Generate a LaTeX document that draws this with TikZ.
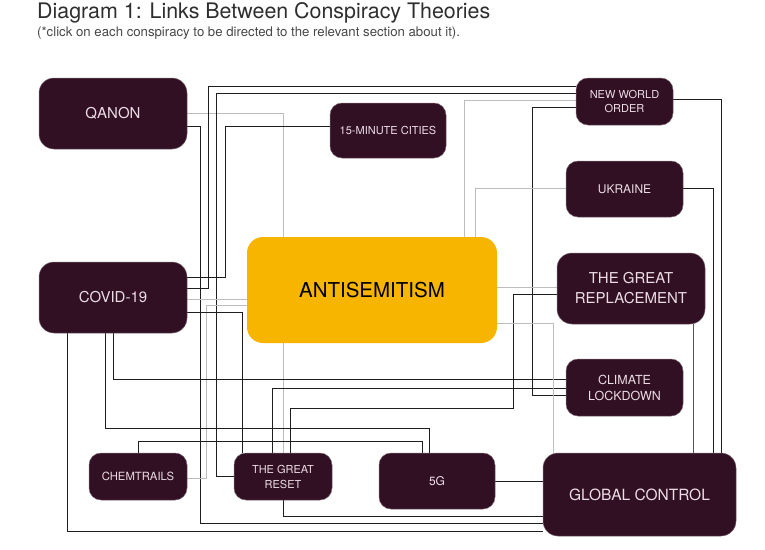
\documentclass[tikz,border=0pt]{standalone}
\usepackage{fontspec}
\setmainfont{TeX Gyre Heros}
\usetikzlibrary{backgrounds}
\definecolor{boxfill}{HTML}{321024}
\definecolor{boxtext}{HTML}{ECDDE5}
\definecolor{boxedge}{HTML}{7A6670}
\definecolor{antifill}{HTML}{F7B500}
\definecolor{lnblack}{HTML}{1E1E1E}
\definecolor{lngray}{HTML}{BDBDBD}
\definecolor{lndark}{HTML}{555555}
\tikzset{
  cbox/.style={rectangle, rounded corners=12pt, fill=boxfill, draw=boxedge, line width=0.5pt,
    text=boxtext, align=center, inner sep=0pt, outer sep=0pt},
  abox/.style={rectangle, rounded corners=16pt, fill=antifill, text=black, align=center,
    inner sep=0pt, outer sep=0pt, font=\fontsize{20.5}{24}\selectfont},
  bl/.style={draw=lnblack, line width=1pt},
  gl/.style={draw=lngray, line width=1pt},
  dl/.style={draw=lndark, line width=1pt},
}
\begin{document}
\begin{tikzpicture}[x=1pt, y=-1pt]
\useasboundingbox (0,0) rectangle (765,549);
% title
\node[anchor=base west, inner sep=0pt, text=black!82, font=\fontsize{21.4}{24}\selectfont] (title) at (37,18) {Diagram 1: Links Between Conspiracy Theories};
\node[anchor=base west, inner sep=0pt, text=black!72, font=\fontsize{13.2}{15}\selectfont] (subtitle) at (37,36.5) {(*click on each conspiracy to be directed to the relevant section about it).};
% nodes
\node[cbox, rounded corners=15pt, minimum width=148pt, minimum height=71pt, font=\fontsize{15}{18}\selectfont] (q) at (113,113.5) {QANON};
\node[cbox, minimum width=116pt, minimum height=55pt, font=\fontsize{11}{13}\selectfont] (fmc) at (388,130.5) {15-MINUTE CITIES};
\node[cbox, minimum width=97pt, minimum height=47pt, font=\fontsize{11}{14}\selectfont] (nwo) at (624.5,101.5) {NEW WORLD\\ORDER};
\node[cbox, minimum width=117pt, minimum height=56pt, font=\fontsize{12}{14}\selectfont] (ukr) at (624.5,189) {UKRAINE};
\node[cbox, rounded corners=15pt, minimum width=148pt, minimum height=71pt, font=\fontsize{15}{18}\selectfont] (cov) at (113,297.5) {COVID-19};
\node[abox, minimum width=250pt, minimum height=106pt] (anti) at (372,290) {ANTISEMITISM};
\node[cbox, rounded corners=15pt, minimum width=148pt, minimum height=71pt, font=\fontsize{15}{20}\selectfont] (gr) at (631,288.5) {THE GREAT\\REPLACEMENT};
\node[cbox, minimum width=117pt, minimum height=57pt, font=\fontsize{12.5}{16}\selectfont] (cl) at (624.5,387.5) {CLIMATE\\LOCKDOWN};
\node[cbox, minimum width=98pt, minimum height=47pt, font=\fontsize{11.3}{14}\selectfont] (chem) at (138,476.5) {CHEMTRAILS};
\node[cbox, minimum width=98pt, minimum height=47pt, font=\fontsize{11}{15}\selectfont] (reset) at (283,476.5) {THE GREAT\\RESET};
\node[cbox, minimum width=116pt, minimum height=56pt, font=\fontsize{12}{14}\selectfont] (fg) at (437,481) {5G};
\node[cbox, rounded corners=15pt, minimum width=193pt, minimum height=83pt, font=\fontsize{15.5}{18}\selectfont] (gc) at (639.5,494.5) {GLOBAL CONTROL};
% connectors
\begin{pgfonlayer}{background}
\draw[gl] (q.east) -| ([xshift=-89pt]anti.north);
\draw[bl] ([yshift=-12.5pt]q.east) -| (200,523) -- ([yshift=-28.5pt]gc.west);
\draw[bl] ([yshift=9.5pt]cov.east) -| (208,86) -- ([yshift=15.5pt]nwo.west);
\draw[bl] (reset.west) -| (216,93) -- ([yshift=8.5pt]nwo.west);
\draw[bl] ([yshift=20.5pt]cov.east) -| (225,126) -- ([yshift=4.5pt]fmc.west);
\draw[gl] ([yshift=-1.5pt]cov.east) -- ([yshift=-9pt]anti.west);
\draw[gl] ([yshift=-1.5pt]chem.east) -| (206,305) -- ([yshift=-15pt]anti.west);
\draw[bl] ([yshift=-14.5pt]cov.east) -| ([xshift=-41pt]reset.north);
\draw[gl] ([xshift=-89pt]anti.south) -- (reset.north);
\draw[bl] (reset.south) |- ([yshift=-21.5pt]gc.west);
\draw[bl] ([xshift=-46pt]cov.south) |- ([yshift=-36.5pt]gc.west);
\draw[bl] ([xshift=-8pt]cov.south) |- (429,428) -- ([xshift=-8pt]fg.north);
\draw[bl] (chem.north) |- (422,441) -- ([xshift=-15pt]fg.north);
\draw[bl] (cov.south) |- ([yshift=8.5pt]cl.west);
\draw[bl] ([xshift=-11pt]reset.north) |- ([yshift=-0.5pt]cl.west);
\draw[bl] ([yshift=-5.5pt]gr.west) -| (513,408) -| ([xshift=7pt]reset.north);
\draw[bl] ([yshift=-5.5pt]nwo.west) -| (532,395) -- ([yshift=-7.5pt]cl.west);
\draw[gl] ([xshift=92pt]anti.north) |- ([yshift=1.5pt]nwo.west);
\draw[gl] ([xshift=103pt]anti.north) |- ([yshift=1pt]ukr.west);
\draw[gl] ([yshift=3pt]anti.east) -- ([yshift=1.5pt]gr.west);
\draw[gl] ([yshift=-33pt]anti.east) -| ([xshift=-86.5pt]gc.north);
\draw[bl] ([yshift=2.5pt]nwo.east) -| ([xshift=81.5pt]gc.north);
\draw[bl] ([yshift=1pt]ukr.east) -| ([xshift=73.5pt]gc.north);
\draw[dl] ([xshift=62pt]gr.south) -- ([xshift=53.5pt]gc.north);
\draw[bl] (fg.east) -- ([yshift=13.5pt]gc.west);
\end{pgfonlayer}
\end{tikzpicture}
\end{document}
